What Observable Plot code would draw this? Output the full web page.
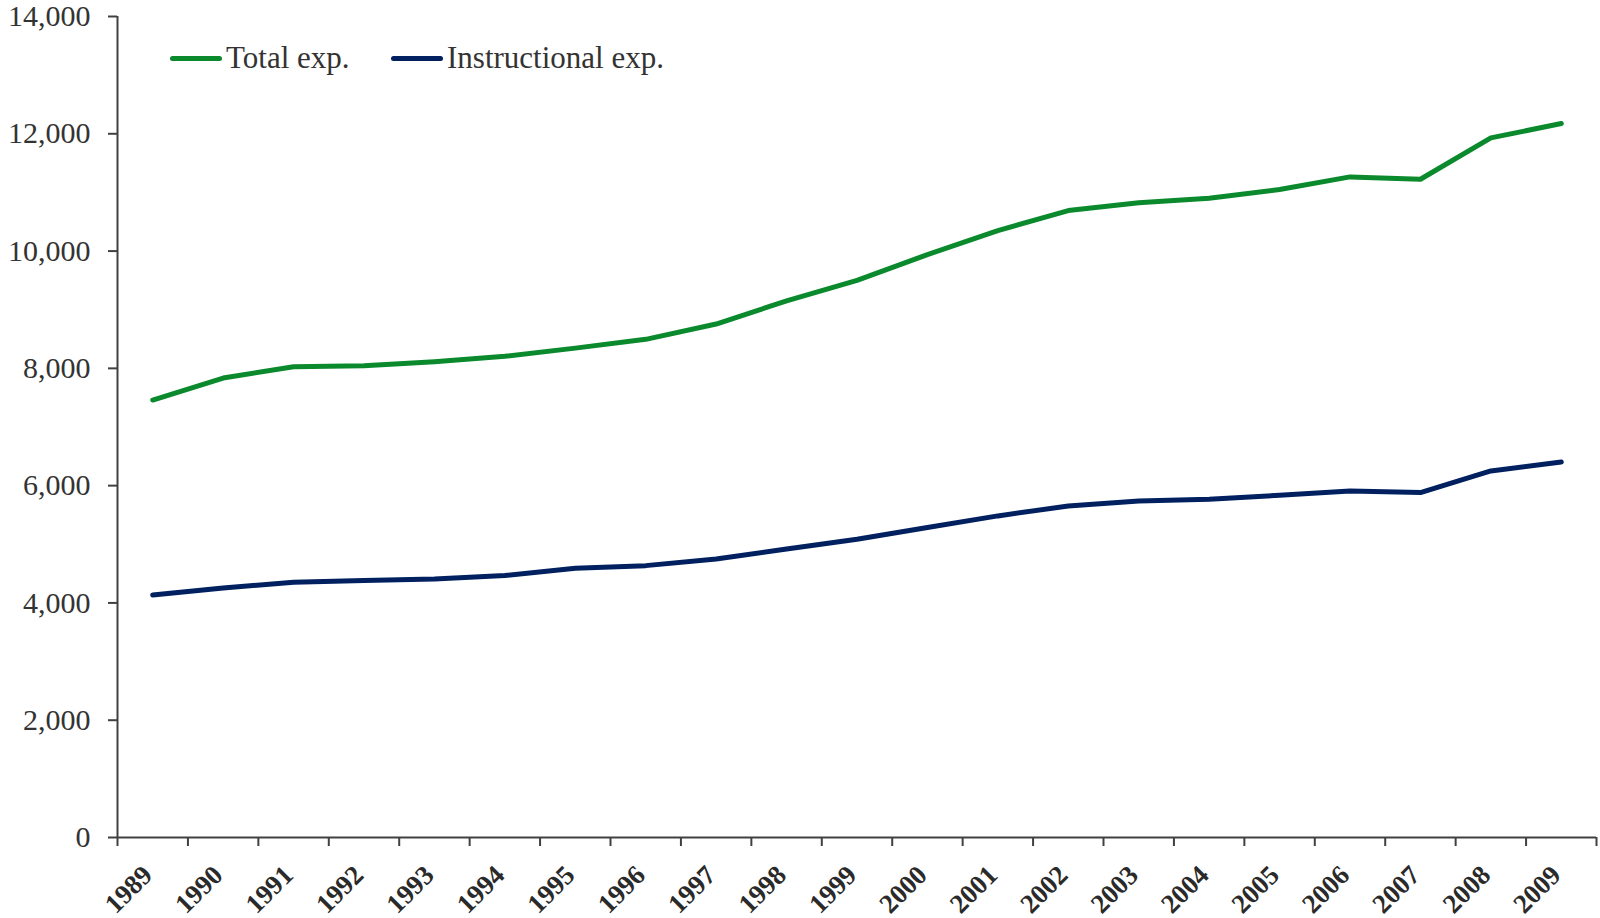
<!DOCTYPE html>
<html><head><meta charset="utf-8">
<script src="https://cdn.jsdelivr.net/npm/d3@7"></script>
<script src="https://cdn.jsdelivr.net/npm/@observablehq/plot@0.6"></script>
<style>
body{margin:0;background:#fff;}
#chart{position:relative;width:1600px;height:918px;}
.item{position:absolute;top:40px;height:36px;display:flex;align-items:center;font-family:"Liberation Serif",serif;font-size:31px;color:#333;white-space:nowrap;}
.sw{width:52px;height:5px;border-radius:3px;margin-right:4px;}
</style></head><body><div id="chart"></div>
<script>
const years = [1989,1990,1991,1992,1993,1994,1995,1996,1997,1998,1999,2000,2001,2002,2003,2004,2005,2006,2007,2008,2009];
const totalExp = [7460,7835,8028,8045,8112,8205,8345,8495,8756,9150,9500,9940,10350,10690,10825,10900,11050,11265,11225,11930,12175];
const instructionalExp = [4136,4256,4352,4381,4409,4466,4591,4636,4750,4920,5085,5285,5484,5654,5740,5768,5836,5910,5881,6251,6404];
const yTicks = [0,2000,4000,6000,8000,10000,12000,14000];
const seriesNames = ["Total exp.","Instructional exp."];
const seriesColors = ["#0A8A2C","#002060"];

const data = years.flatMap((yr,i)=>[
  {year:yr,value:totalExp[i],series:seriesNames[0]},
  {year:yr,value:instructionalExp[i],series:seriesNames[1]}
]);
const boundaries = [...years.map(y=>y-0.5), years[years.length-1]+0.5];

const plot = Plot.plot({
  width:1600,height:918,marginLeft:117,marginRight:4,marginTop:16,marginBottom:81,
  style:{fontFamily:"'Liberation Serif', serif", color:"#333", background:"white"},
  x:{type:"linear",domain:[boundaries[0], boundaries[boundaries.length-1]]},
  y:{domain:[0,14000]},
  color:{domain:seriesNames, range:seriesColors},
  marks:[
    Plot.axisY({ticks:yTicks, tickSize:9, tickPadding:18, tickFormat:d3.format(","), fontSize:30, label:null, stroke:"#404040", strokeWidth:2}),
    Plot.axisX({ticks:boundaries, tickSize:9, tickFormat:()=>"", label:null, stroke:"#404040", strokeWidth:2}),
    Plot.ruleX([boundaries[0]], {stroke:"#404040", strokeWidth:2}),
    Plot.ruleY([0], {stroke:"#404040", strokeWidth:2}),
    Plot.text(years, {x:d=>d, frameAnchor:"bottom", dy:33, dx:-5, rotate:-45, textAnchor:"end", lineAnchor:"middle", text:d=>String(d), fontWeight:"bold", fontSize:27, fill:"#2a2a2a"}),
    Plot.line(data, {x:"year", y:"value", stroke:"series", z:"series", strokeWidth:5, strokeLinecap:"round", strokeLinejoin:"round"})
  ]
});
const chart = document.getElementById("chart");
chart.appendChild(plot);
const lefts = [170, 391];
seriesNames.forEach((name,i)=>{
  const it = document.createElement("div");
  it.className = "item";
  it.style.left = lefts[i] + "px";
  const sw = document.createElement("span");
  sw.className = "sw";
  sw.style.background = seriesColors[i];
  const tx = document.createElement("span");
  tx.textContent = name;
  it.appendChild(sw); it.appendChild(tx);
  chart.appendChild(it);
});
</script></body></html>
